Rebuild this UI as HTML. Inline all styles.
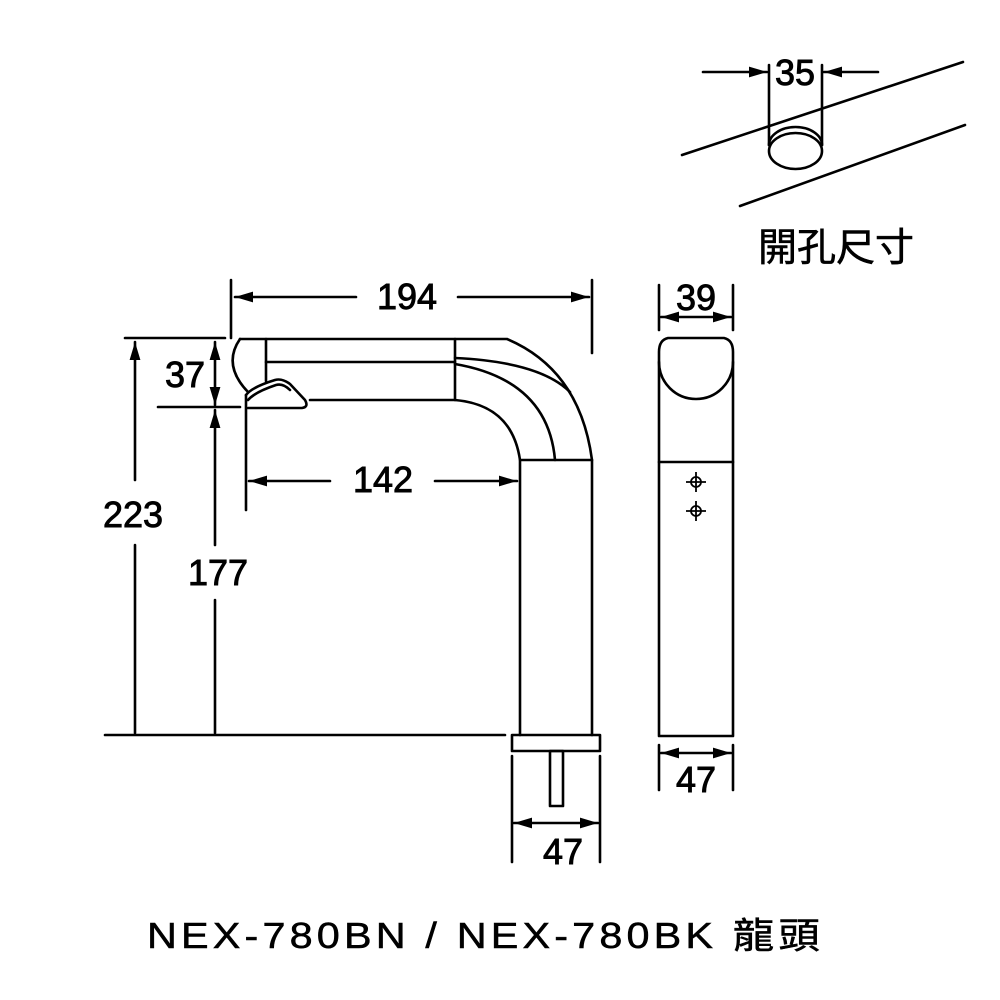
<!DOCTYPE html>
<html><head><meta charset="utf-8"><style>html,body{margin:0;padding:0;background:#fff}svg{display:block}</style></head>
<body>
<svg width="1000" height="1000" viewBox="0 0 1000 1000" xmlns="http://www.w3.org/2000/svg">
<defs>
<marker id="a" viewBox="0 0 10 10" refX="10" refY="5" markerWidth="7" markerHeight="7" orient="auto-start-reverse"><path d="M0,2 L10,5 L0,8 z" fill="#000"/></marker>
</defs>
<g fill="none" stroke="#000" stroke-width="2.6" stroke-linecap="round" stroke-linejoin="round">
<line x1="682" y1="155" x2="963" y2="62"/>
<line x1="740" y1="206" x2="965" y2="125"/>
<line x1="769" y1="65" x2="769" y2="145"/>
<line x1="822" y1="65" x2="822" y2="145"/>
<path d="M769,145 A26.5,18 0 0 1 822,145"/>
<ellipse cx="795.5" cy="151" rx="26.5" ry="18"/>
<line x1="703" y1="72" x2="767" y2="72" marker-end="url(#a)"/>
<line x1="878" y1="72" x2="824" y2="72" marker-end="url(#a)"/>

<line x1="231" y1="280" x2="231" y2="338"/>
<line x1="592" y1="280" x2="592" y2="353"/>
<line x1="235" y1="297" x2="356" y2="297" marker-start="url(#a)"/>
<line x1="458" y1="297" x2="589" y2="297" marker-end="url(#a)"/>
<path d="M240,339 L507,339 Q580,370 592,460 L520,460 Q512,405 455,400 L310,400"/>
<path d="M240,339 Q222,365 248,392"/>
<line x1="266" y1="339" x2="266" y2="381"/>
<line x1="455" y1="339" x2="455" y2="400"/>
<line x1="266" y1="362" x2="455" y2="362"/>
<path d="M455,358 Q540,362 570,392"/>
<path d="M455,364 Q548,380 555,460"/>
<path d="M246,395 Q252,387 275,380 Q282,378 290,384 L305,400 Q309,407 302,408 L248,408"/>
<path d="M248,400 Q255,392 276,385 Q283,383 290,390"/>
<line x1="246" y1="395" x2="246" y2="510"/>
<line x1="520" y1="460" x2="520" y2="735"/>
<line x1="592" y1="460" x2="592" y2="735"/>
<rect x="512" y="735" width="88" height="16"/>
<rect x="550" y="751" width="13" height="55"/>
<line x1="512" y1="756" x2="512" y2="862"/>
<line x1="600" y1="756" x2="600" y2="862"/>
<line x1="514" y1="823" x2="598" y2="823" marker-start="url(#a)" marker-end="url(#a)"/>
<line x1="249" y1="481" x2="330" y2="481" marker-start="url(#a)"/>
<line x1="435" y1="481" x2="517" y2="481" marker-end="url(#a)"/>
<line x1="105" y1="735" x2="505" y2="735"/>
<line x1="125" y1="338" x2="225" y2="338"/>
<line x1="158" y1="407" x2="240" y2="407"/>
<line x1="135" y1="342" x2="135" y2="480" marker-start="url(#a)"/>
<line x1="135" y1="545" x2="135" y2="733"/>
<line x1="215" y1="342" x2="215" y2="405" marker-start="url(#a)" marker-end="url(#a)"/>
<line x1="215" y1="410" x2="215" y2="545" marker-start="url(#a)"/>
<line x1="215" y1="600" x2="215" y2="733"/>

<line x1="659" y1="285" x2="659" y2="330"/>
<line x1="733" y1="285" x2="733" y2="330"/>
<line x1="661" y1="317" x2="731" y2="317" marker-start="url(#a)" marker-end="url(#a)"/>
<path d="M668,338 L724,338 Q733,340 733,352 L733,736 L659,736 L659,352 Q659,340 668,338 Z"/>
<path d="M659,362 A37,37 0 0 0 733,362"/>
<line x1="659" y1="462" x2="733" y2="462"/>
<line x1="659" y1="745" x2="659" y2="790"/>
<line x1="733" y1="745" x2="733" y2="790"/>
<line x1="661" y1="753" x2="731" y2="753" marker-start="url(#a)" marker-end="url(#a)"/>
</g>
<g fill="none" stroke="#000" stroke-width="1.8">
<circle cx="696" cy="482" r="5"/><line x1="686" y1="482" x2="706" y2="482"/><line x1="696" y1="472" x2="696" y2="492"/>
<circle cx="696" cy="511" r="5"/><line x1="686" y1="511" x2="706" y2="511"/><line x1="696" y1="501" x2="696" y2="521"/>
</g>
<g font-family="Liberation Sans, sans-serif" font-size="36" text-anchor="middle" fill="#000" stroke="#000" stroke-width="0.9">
<text x="795" y="85">35</text>
<text x="407" y="309">194</text>
<text x="383" y="492">142</text>
<text x="185" y="387">37</text>
<text x="133" y="527">223</text>
<text x="218" y="585">177</text>
<text x="563" y="864">47</text>
<text x="696" y="310">39</text>
<text x="696" y="792">47</text>
</g>
<text x="836" y="261" font-family="Liberation Sans, 'Noto Sans CJK TC', sans-serif" font-size="39" text-anchor="middle" stroke="#000" stroke-width="0.6">開孔尺寸</text>
<g transform="translate(147,0) scale(1.15,1)">
<text x="0" y="948" font-family="Liberation Sans, 'Noto Sans CJK TC', sans-serif" font-size="36" stroke="#000" stroke-width="0.5" textLength="585" lengthAdjust="spacing">NEX-780BN / NEX-780BK 龍頭</text>
</g>
</svg>
</body></html>
